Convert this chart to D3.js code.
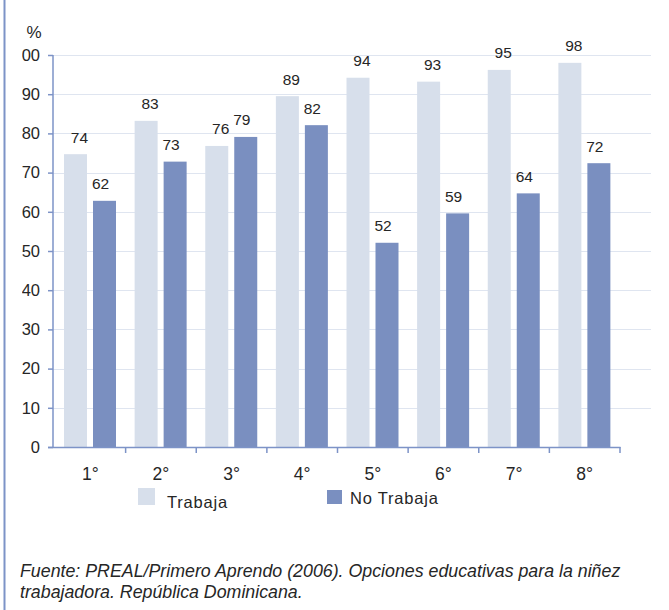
<!DOCTYPE html>
<html><head><meta charset="utf-8">
<script src="https://cdn.jsdelivr.net/npm/d3@7"></script>
<style>
html,body{margin:0;padding:0;background:#fff;}
svg{display:block;font-family:"Liberation Sans",Arial,Helvetica,sans-serif;}
</style></head>
<body>
<svg id="c" width="669" height="610"></svg>
<script>
const categories = ["1°","2°","3°","4°","5°","6°","7°","8°"];
const seriesNames = ["Trabaja","No Trabaja"];
const trabaja = [74.7, 83.2, 76.8, 89.5, 94.2, 93.2, 96.2, 98.0];
const noTrabaja = [62.8, 72.8, 79.1, 82.1, 52.1, 59.6, 64.7, 72.4];
const labelsTrabaja = ["74","83","76","89","94","93","95","98"];
const labelsNoTrabaja = ["62","73","79","82","52","59","64","72"];
const yTicks = [0,10,20,30,40,50,60,70,80,90,100];
const yTickLabels = ["0","10","20","30","40","50","60","70","80","90","100"];
const source = ["Fuente: PREAL/Primero Aprendo (2006). Opciones educativas para la niñez",
                "trabajadora. República Dominicana."];

const colors = {"Trabaja":"#d7dfeb","No Trabaja":"#7a8fc0"};
const axisColor = "#7d93c7";
const gridColor = "#dfe5f0";
const textColor = "#262626";

const svg = d3.select("#c");
const y = d3.scaleLinear().domain([0,100]).range([447,55]);
const x = d3.scaleBand().domain(categories).range([55,620]).padding(0);
const xs = d3.scaleBand().domain(seriesNames).range([9,61]).paddingInner(0.207).paddingOuter(0);

// left border
svg.append("line").attr("x1",4.5).attr("x2",4.5).attr("y1",0).attr("y2",610)
  .attr("stroke",axisColor).attr("stroke-width",2);

// gridlines
svg.append("g").selectAll("line").data(yTicks.filter(d=>d>0)).join("line")
  .attr("x1",53).attr("x2",651).attr("y1",d=>Math.round(y(d))+0.5).attr("y2",d=>Math.round(y(d))+0.5)
  .attr("stroke",gridColor).attr("stroke-width",1.2);

// bars
const data = categories.map((c,i)=>({c, vals:[
  {s:"Trabaja", v:trabaja[i], l:labelsTrabaja[i]},
  {s:"No Trabaja", v:noTrabaja[i], l:labelsNoTrabaja[i]}]}));
const g = svg.append("g").selectAll("g").data(data).join("g")
  .attr("transform",d=>`translate(${x(d.c)},0)`);
g.selectAll("rect").data(d=>d.vals).join("rect")
  .attr("x",d=>xs(d.s)).attr("width",xs.bandwidth())
  .attr("y",d=>y(d.v)).attr("height",d=>y(0)-y(d.v))
  .attr("fill",d=>colors[d.s]);
g.selectAll("text").data(d=>d.vals).join("text")
  .attr("x",d=>xs(d.s)+xs.bandwidth()/2+(d.s==="Trabaja"?4:-4))
  .attr("y",d=>y(d.v)-11.5)
  .attr("text-anchor","middle").attr("font-size",15.5).attr("fill",textColor)
  .text(d=>d.l);

// y axis
const clip = svg.append("clipPath").attr("id","yclip");
clip.append("rect").attr("x",22).attr("y",0).attr("width",100).attr("height",470);
const yAxisWrap = svg.append("g").attr("clip-path","url(#yclip)");
const yAxis = yAxisWrap.append("g").attr("transform","translate(53,0)")
  .call(d3.axisLeft(y).tickValues(yTicks).tickFormat((d,i)=>yTickLabels[i]).tickSize(5).tickPadding(8));
yAxis.select(".domain").attr("stroke",axisColor).attr("stroke-width",1.5).attr("d","M0,447V55");
yAxis.selectAll(".tick line").attr("stroke",axisColor).attr("stroke-width",1.5);
yAxis.selectAll(".tick text").attr("font-size",16.5).attr("fill",textColor)
  .attr("font-family","Liberation Sans, Arial, sans-serif");

svg.append("text").attr("x",34).attr("y",38).attr("text-anchor","middle")
  .attr("font-size",17).attr("fill",textColor).text("%");

// x axis
const xAxis = svg.append("g").attr("transform","translate(0,447)");
xAxis.append("line").attr("x1",48).attr("x2",620.5).attr("y1",0.5).attr("y2",0.5)
  .attr("stroke",axisColor).attr("stroke-width",1.5);
xAxis.selectAll("line.tk").data(categories).join("line").attr("class","tk")
  .attr("x1",d=>x(d)+x.bandwidth()).attr("x2",d=>x(d)+x.bandwidth())
  .attr("y1",0).attr("y2",6).attr("stroke",axisColor).attr("stroke-width",1.5);
xAxis.selectAll("text").data(categories).join("text")
  .attr("x",d=>x(d)+x.bandwidth()/2).attr("y",33)
  .attr("text-anchor","middle").attr("font-size",17.5).attr("fill",textColor).text(d=>d);

// legend
const leg = [{s:"Trabaja",x:138,y:488,w:17,h:17,tx:167,ty:508},
             {s:"No Trabaja",x:327,y:490,w:15,h:14,tx:350,ty:504}];
const lg = svg.append("g").selectAll("g").data(leg).join("g");
lg.append("rect").attr("x",d=>d.x).attr("y",d=>d.y).attr("width",d=>d.w).attr("height",d=>d.h)
  .attr("fill",d=>colors[d.s]);
lg.append("text").attr("x",d=>d.tx).attr("y",d=>d.ty).attr("font-size",16.5)
  .attr("letter-spacing",0.8).attr("fill",textColor).text(d=>d.s);

// source
svg.append("g").selectAll("text").data(source).join("text")
  .attr("x",20).attr("y",(d,i)=>577+i*21).attr("font-size",17.8).attr("font-style","italic")
  .attr("fill",textColor).text(d=>d);
</script>
</body></html>
